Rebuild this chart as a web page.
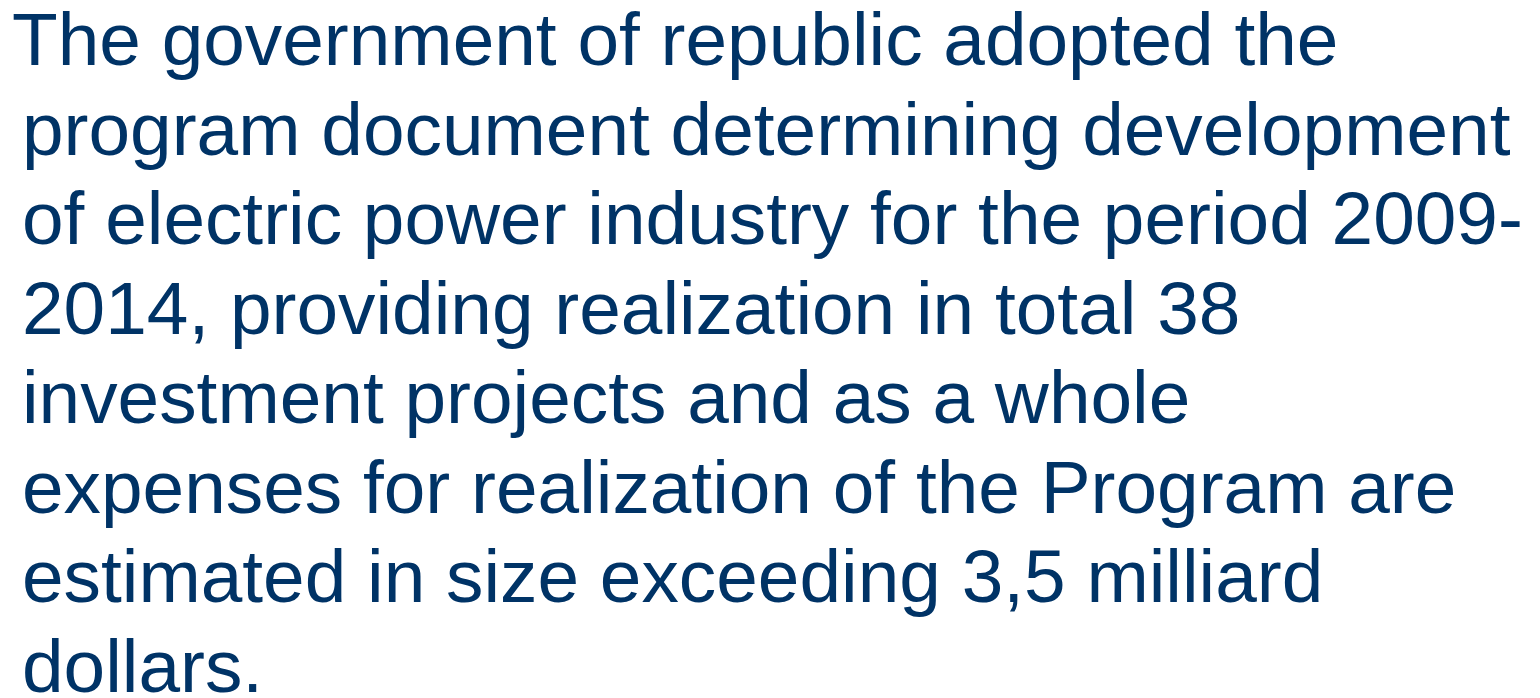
<!DOCTYPE html>
<html lang="en">
	<head>
		<meta charset="UTF-8" />
		<meta name="viewport" content="width=device-width, initial-scale=1.0" />
		<title>Electric Power Program</title>
		<script src="https://cdn.jsdelivr.net/npm/chart.js"></script>
		<style>
			html, body { margin: 0; padding: 0; background: #ffffff; }
			body { width: 1540px; height: 698px; overflow: hidden; position: relative; }
			#slideText {
				position: absolute;
				left: 22px;
				top: -5px;
				font-family: "Liberation Sans", Arial, sans-serif;
				font-size: 74.8px;
				line-height: 89.5px;
				color: #003366;
			}
			#slideText span { display: block; white-space: nowrap; }
			#slideText span:first-child { margin-left: -10px; }
		</style>
	</head>
	<body>
		<div id="slideText"></div>

		<script>
			// slide text, one entry per line as it breaks in the picture
			const lines = [
				"The government of republic adopted the",
				"program document determining development",
				"of electric power industry for the period 2009-",
				"2014, providing realization in total 38",
				"investment projects and as a whole",
				"expenses for realization of the Program are",
				"estimated in size exceeding 3,5 milliard",
				"dollars.",
			];

			const box = document.getElementById("slideText");
			lines.forEach((t) => {
				const s = document.createElement("span");
				s.textContent = t;
				box.appendChild(s);
			});
		</script>
	</body>
</html>
